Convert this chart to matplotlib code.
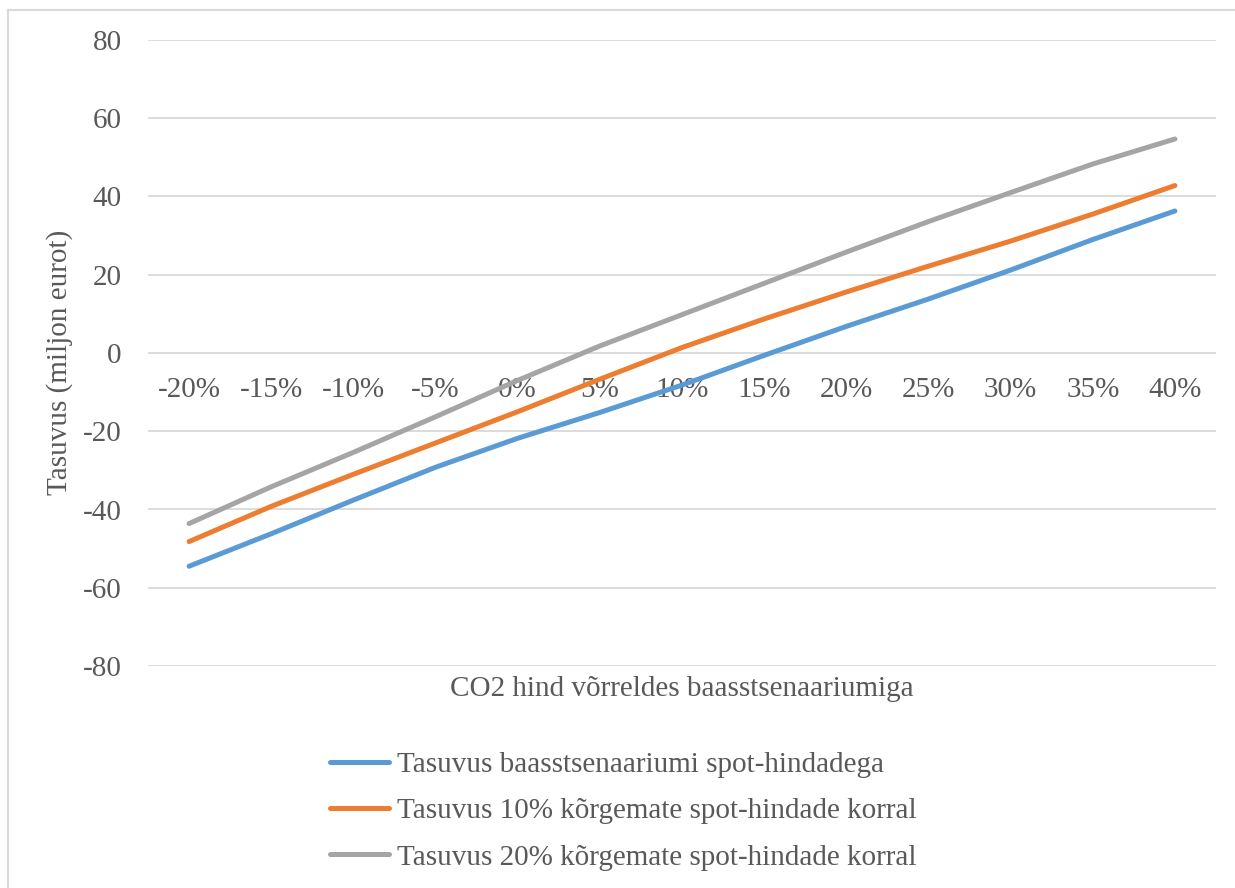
import matplotlib.pyplot as plt
from matplotlib.lines import Line2D

plt.rcParams['font.family'] = ['Liberation Serif', 'DejaVu Serif']

categories = ["-20%", "-15%", "-10%", "-5%", "0%", "5%", "10%",
              "15%", "20%", "25%", "30%", "35%", "40%"]
base = [-54.5, -46.2, -37.6, -29.2, -21.8, -15.2, -8.2,
        -0.6, 6.8, 13.8, 21.2, 29.0, 36.3]
plus10 = [-48.2, -39.2, -31.0, -23.0, -15.0, -6.7, 1.4,
          8.7, 15.6, 22.2, 28.6, 35.5, 42.8]
plus20 = [-43.6, -34.2, -25.4, -16.3, -7.0, 1.8, 9.8,
          17.8, 25.8, 33.6, 41.0, 48.3, 54.7]
names = ["Tasuvus baasstsenaariumi spot-hindadega",
         "Tasuvus 10% kõrgemate spot-hindade korral",
         "Tasuvus 20% kõrgemate spot-hindade korral"]
colors = ["#5B9BD5", "#ED7D31", "#A5A5A5"]
yticks = [-80, -60, -40, -20, 0, 20, 40, 60, 80]

txt = "#595959"
fs = 21
fig = plt.figure(figsize=(12.35, 8.88), dpi=100)
ax = fig.add_axes([148 / 1235, 1 - 666 / 888, (1216 - 148) / 1235, (666 - 40) / 888])

x = list(range(len(categories)))
for ys, c in zip([base, plus10, plus20], colors):
    ax.plot(x, ys, color=c, lw=3.6, solid_capstyle="round", zorder=3)

ax.set_xlim(-0.5, len(categories) - 0.5)
ax.set_ylim(-80, 80)
ax.set_yticks(yticks)
ax.set_yticklabels([str(v) for v in yticks])
ax.grid(axis="y", color="#D9D9D9", lw=1.3)
ax.set_axisbelow(True)
for s in ["top", "right", "left"]:
    ax.spines[s].set_visible(False)
# category axis crosses at zero
ax.spines["bottom"].set_position(("data", 0))
ax.spines["bottom"].set_color("none")
ax.set_xticks(x)
ax.set_xticklabels(categories)
ax.tick_params(axis="x", length=0, pad=17, labelsize=fs, labelcolor=txt)
ax.tick_params(axis="y", length=0, pad=19, labelsize=fs, labelcolor=txt)

fig.text(60 / 1235, 1 - 362 / 888, "Tasuvus (miljon eurot)", rotation=90,
         ha="center", va="center", fontsize=fs, color=txt)
fig.text(682 / 1235, 1 - 689 / 888, "CO2 hind võrreldes baasstsenaariumiga",
         ha="center", va="center", fontsize=fs, color=txt)

handles = [Line2D([], [], color=c, lw=3.6, solid_capstyle="round") for c in colors]
fig.legend(handles, names, loc="upper left", bbox_to_anchor=(318 / 1235, 1 - 740 / 888),
           frameon=False, fontsize=fs, labelcolor=txt, handlelength=2.05,
           handletextpad=0.25, labelspacing=0.68, borderaxespad=0)

# chart area border
fig.add_artist(Line2D([8 / 1235, 8 / 1235], [0, 1 - 10 / 888], color="#D9D9D9", lw=1.5))
fig.add_artist(Line2D([8 / 1235, 1], [1 - 10 / 888, 1 - 10 / 888], color="#D9D9D9", lw=1.5))

fig.savefig("out.png", dpi=100, facecolor="white")
